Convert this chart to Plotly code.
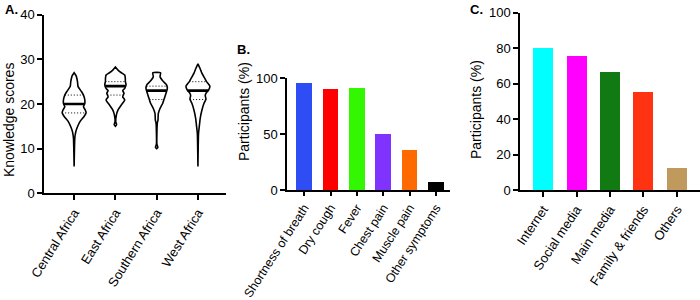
import numpy as np
import plotly.graph_objects as go

# ---------------- Panel A data (violin profiles) ----------------
regions = ["Central Africa", "East Africa", "Southern Africa", "West Africa"]

central_scores = [27.0, 26.3, 25.0, 23.9, 22.8, 22.0, 21.0, 20.1, 19.4, 18.6, 18.0, 17.2, 16.1, 14.9, 13.8, 12.5, 6.0]
central_density = [0.0, 0.17, 0.28, 0.33, 0.61, 0.78, 0.89, 0.89, 0.78, 0.94, 1.0, 0.83, 0.5, 0.28, 0.14, 0.06, 0.0]

east_scores = [28.3, 27.6, 27.0, 26.5, 25.7, 25.1, 24.3, 23.5, 23.0, 22.4, 21.6, 20.9, 19.8, 18.7, 17.5, 16.0, 15.4, 15.0]
east_density = [0.0, 0.22, 0.5, 0.78, 0.83, 0.83, 0.89, 0.78, 0.61, 0.72, 0.61, 0.78, 0.5, 0.22, 0.08, 0.03, 0.1, 0.0]

southern_scores = [27.0, 26.1, 25.2, 24.3, 23.4, 22.4, 21.0, 20.1, 19.0, 17.9, 16.4, 15.7, 11.0, 10.3, 10.0]
southern_density = [0.33, 0.28, 0.5, 0.83, 0.89, 0.78, 0.61, 0.5, 0.28, 0.14, 0.11, 0.05, 0.02, 0.1, 0.0]

west_scores = [29.0, 28.0, 26.9, 25.8, 25.0, 24.0, 23.1, 22.4, 21.9, 21.1, 20.1, 18.6, 16.8, 14.9, 13.4, 6.0]
west_density = [0.0, 0.17, 0.33, 0.56, 0.72, 1.0, 0.89, 0.67, 0.61, 0.67, 0.5, 0.33, 0.19, 0.11, 0.05, 0.0]

medians = [20, 24, 23, 23]
q1 = [18, 22, 21, 21]
q3 = [22, 25, 24, 25]

# ---------------- Panel B data ----------------
symptoms = ["Shortness of breath", "Dry cough", "Fever", "Chest pain", "Muscle pain", "Other symptoms"]
symptom_pct = [95.5, 90, 91, 50, 35.5, 6.5]
symptom_colors = ["#2F4DF4", "#FF0000", "#33F700", "#8033FF", "#FF6A00", "#000000"]

# ---------------- Panel C data ----------------
sources = ["Internet", "Social media", "Main media", "Family & friends", "Others"]
source_pct = [80, 75.5, 67, 55.5, 12.8]
source_colors = ["#00FFFF", "#FF00FF", "#127A12", "#FF3311", "#C09A5C"]

FONT = "Arial, Liberation Sans, sans-serif"
W, H = 700, 300
HALF = 0.29  # half-width (category units) at relative density 1

fig = go.Figure()

profiles = [
    (central_scores, central_density),
    (east_scores, east_density),
    (southern_scores, southern_density),
    (west_scores, west_density),
]

for i, (sc, de) in enumerate(profiles):
    sc = np.array(sc, float)
    de = np.array(de, float)
    xs = np.concatenate([i + de * HALF, (i - de * HALF)[::-1], [i + de[0] * HALF]])
    ys = np.concatenate([sc, sc[::-1], [sc[0]]])
    fig.add_trace(go.Scatter(x=xs, y=ys, mode="lines",
                             line=dict(color="black", width=1.6, shape="spline", smoothing=0.5),
                             xaxis="x", yaxis="y", hoverinfo="skip", showlegend=False))
    asc_s = sc[::-1]
    asc_d = de[::-1]
    for val, wid, dash in [(medians[i], 2.6, "solid"), (q1[i], 1.0, "1px,2px"), (q3[i], 1.0, "1px,2px")]:
        w = float(np.interp(val, asc_s, asc_d)) * HALF
        fig.add_trace(go.Scatter(x=[i - w, i + w], y=[val, val], mode="lines",
                                 line=dict(color="black", width=wid, dash=dash),
                                 xaxis="x", yaxis="y", hoverinfo="skip", showlegend=False))

fig.add_trace(go.Bar(x=list(range(len(symptoms))), y=symptom_pct, marker=dict(color=symptom_colors, line=dict(width=0)),
                     width=0.59, xaxis="x2", yaxis="y2", showlegend=False))
fig.add_trace(go.Bar(x=list(range(len(sources))), y=source_pct, marker=dict(color=source_colors, line=dict(width=0)),
                     width=0.6, xaxis="x3", yaxis="y3", showlegend=False))

axis_common = dict(showline=True, linecolor="black", linewidth=1.5, ticks="outside", ticklen=5,
                   tickwidth=1.5, tickcolor="black", showgrid=False, zeroline=False, automargin=False,
                   tickfont=dict(family=FONT, size=13, color="black"), fixedrange=True)


def px_x(a, b):
    return [a / W, b / W]


def px_y(top, bottom):
    return [(H - bottom) / H, (H - top) / H]


fig.update_layout(
    template="none",
    width=W, height=H, margin=dict(l=0, r=0, t=0, b=0, pad=0), autosize=False,
    paper_bgcolor="white", plot_bgcolor="white", bargap=0,
    font=dict(family=FONT, size=13, color="black"),
    xaxis=dict(axis_common, domain=px_x(44, 226), range=[-0.73, 3.68], tickvals=list(range(4)),
               ticktext=regions, tickangle=-58, anchor="y"),
    yaxis=dict(axis_common, domain=px_y(14.7, 193.3), range=[0, 40], tickvals=[0, 10, 20, 30, 40], anchor="x"),
    xaxis2=dict(axis_common, domain=px_x(287, 450), range=[-0.65, 5.53], tickvals=list(range(6)),
                ticktext=symptoms, tickangle=-57, anchor="y2", ticklen=4,
                tickfont=dict(family=FONT, size=12.4, color="black")),
    yaxis2=dict(axis_common, domain=px_y(78.3, 190), range=[0, 100], tickvals=[0, 50, 100], anchor="x2"),
    xaxis3=dict(axis_common, domain=px_x(520, 700), range=[-0.69, 4.69], tickvals=list(range(5)),
                ticktext=sources, tickangle=-56, anchor="y3"),
    yaxis3=dict(axis_common, domain=px_y(12.7, 190), range=[0, 100], tickvals=[0, 20, 40, 60, 80, 100], anchor="x3"),
)


def ann(text, x, y, size=13, bold=False, angle=0):
    fig.add_annotation(text=f"<b>{text}</b>" if bold else text, x=x / W, y=(H - y) / H,
                       xref="paper", yref="paper", showarrow=False, textangle=angle,
                       font=dict(family=FONT, size=size, color="black"), xanchor="center", yanchor="middle")


ann("Knowledge scores", 9, 120, size=14, angle=-90)
ann("Participants (%)", 244, 112, size=14, angle=-90)
ann("Participants (%)", 476, 110, size=14, angle=-90)
ann("A.", 11, 10, size=13, bold=True)
ann("B.", 243, 50, size=13, bold=True)
ann("C.", 476, 9, size=13, bold=True)

fig.write_html("out.html", config={"displayModeBar": False},
               post_script="document.body.style.margin='0px';document.body.style.overflow='hidden';")
